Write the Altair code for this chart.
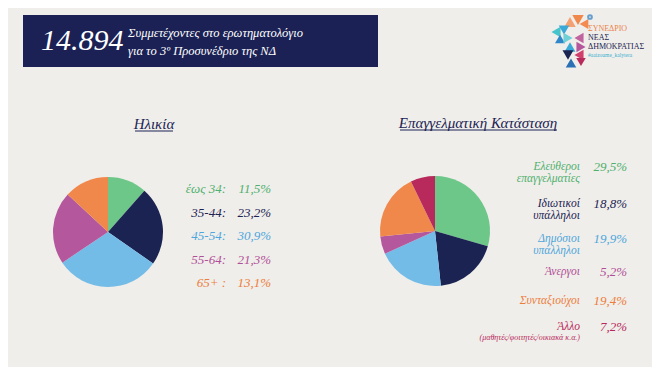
import altair as alt
import pandas as pd

# ---- data ----
age_labels = ["έως 34:", "35-44:", "45-54:", "55-64:", "65+ :"]
age_values = [11.5, 23.2, 30.9, 21.3, 13.1]
age_texts = ["11,5%", "23,2%", "30,9%", "21,3%", "13,1%"]

job_labels = ["Ελεύθεροι\nεπαγγελματίες", "Ιδιωτικοί\nυπάλληλοι", "Δημόσιοι\nυπάλληλοι",
              "Άνεργοι", "Συνταξιούχοι", "Άλλο"]
job_values = [29.5, 18.8, 19.9, 5.2, 19.4, 7.2]
job_texts = ["29,5%", "18,8%", "19,9%", "5,2%", "19,4%", "7,2%"]

total_text = "14.894"
header_lines = ["Συμμετέχοντες στο ερωτηματολόγιο", "για το 3º Προσυνέδριο της ΝΔ"]
age_title = "Ηλικία"
job_title = "Επαγγελματική Κατάσταση"
other_note = "(μαθητές/φοιτητές/οικιακά κ.α.)"

# ---- styles ----
GREEN, NAVY, BLUE, MAGENTA, ORANGE, CRIMSON = "#6cc788", "#1b2353", "#73bce8", "#b4579c", "#f0884c", "#b8295c"
age_colors = [GREEN, NAVY, BLUE, MAGENTA, ORANGE]
job_colors = [GREEN, NAVY, BLUE, MAGENTA, ORANGE, CRIMSON]
text_age_colors = ["#4fb06f", NAVY, "#4ea6dc", "#b04f98", "#ec7d3c"]
text_job_colors = ["#4fb06f", NAVY, "#4ea6dc", "#b04f98", "#ec7d3c", CRIMSON]
BG = "#f0eeea"
BANNER = "#1b2154"
SERIF = "Liberation Serif"

age_df = pd.DataFrame({"idx": range(len(age_labels)), "label": age_labels,
                       "v": age_values, "t": age_texts})
job_df = pd.DataFrame({"idx": range(len(job_labels)), "label": job_labels,
                       "v": job_values, "t": job_texts})
one = alt.Data(values=[{"a": 1}])

age_color = alt.Color("label:N", scale=alt.Scale(domain=age_labels, range=age_colors), legend=None)
job_color = alt.Color("label:N", scale=alt.Scale(domain=job_labels, range=job_colors), legend=None)
age_tcolor = alt.Color("label:N", scale=alt.Scale(domain=age_labels, range=text_age_colors), legend=None)
job_tcolor = alt.Color("label:N", scale=alt.Scale(domain=job_labels, range=text_job_colors), legend=None)

age_y = alt.Y("idx:Q", scale=alt.Scale(domain=[0, 4], range=[181, 275], zero=False, nice=False), axis=None)
job_y = alt.Y("idx:Q", scale=alt.Scale(domain=[0, 1, 2, 3, 4, 5], range=[159, 196, 231, 264, 293, 319],
                                         zero=False, nice=False), axis=None)

# pies
age_pie = alt.Chart(age_df).mark_arc(outerRadius=55).encode(
    theta=alt.Theta("v:Q", stack=True), color=age_color, order=alt.Order("idx:Q"),
    x=alt.value(100), y=alt.value(224))
job_pie = alt.Chart(job_df).mark_arc(outerRadius=55).encode(
    theta=alt.Theta("v:Q", stack=True), color=job_color, order=alt.Order("idx:Q"),
    x=alt.value(427), y=alt.value(223))

# legends
txt = dict(font=SERIF, fontStyle="italic", fontSize=13, baseline="middle", align="right")
age_lab = alt.Chart(age_df).mark_text(**txt).encode(
    text="label:N", color=age_tcolor, y=age_y, x=alt.value(218))
age_val = alt.Chart(age_df).mark_text(**txt).encode(
    text="t:N", color=age_tcolor, y=age_y, x=alt.value(263))
job_lab = alt.Chart(job_df).mark_text(lineBreak="\n", lineHeight=11.5, font=SERIF, fontStyle="italic",
                                      fontSize=11.5, baseline="middle", align="right").encode(
    text="label:N", color=job_tcolor, y=job_y, x=alt.value(572))
job_val = alt.Chart(job_df).mark_text(**txt).encode(
    text="t:N", color=job_tcolor, y=job_y, x=alt.value(619))
note = alt.Chart(one).mark_text(text=other_note, font=SERIF, fontStyle="italic", fontSize=8,
                                align="right", baseline="middle", color=CRIMSON).encode(
    x=alt.value(572), y=alt.value(330))

# titles
def title(t, cx, cy, x1, x2, uy):
    tt = alt.Chart(one).mark_text(text=t, font=SERIF, fontStyle="italic", fontSize=15,
                                  align="center", baseline="middle", color=NAVY).encode(
        x=alt.value(cx), y=alt.value(cy))
    ul = alt.Chart(one).mark_rule(color=NAVY, strokeWidth=1).encode(
        x=alt.value(x1), x2=alt.value(x2), y=alt.value(uy))
    return [tt, ul]

titles = title(age_title, 146, 116, 127, 165, 123) + title(job_title, 470, 115, 392, 549, 122)

# banner
banner = alt.Chart(one).mark_rect(color=BANNER).encode(
    x=alt.value(15), x2=alt.value(370), y=alt.value(7), y2=alt.value(59))
big = alt.Chart(one).mark_text(text=total_text, font="Liberation Serif", fontStyle="italic",
                               fontSize=30, align="left", baseline="middle", color="white").encode(
    x=alt.value(33), y=alt.value(33))
hl1 = alt.Chart(one).mark_text(text=header_lines[0], font=SERIF, fontStyle="italic",
                               fontSize=12.5, align="left", baseline="middle",
                               color="white").encode(x=alt.value(120), y=alt.value(25))
hl2 = alt.Chart(one).mark_text(text=header_lines[1], font=SERIF, fontStyle="italic",
                               fontSize=12.5, align="left", baseline="middle",
                               color="white").encode(x=alt.value(120), y=alt.value(43))

# logo (decoration)
logo = []
parts = [
    (562, 14, "triangle-up", "#f5a070", 130), (570, 12, "triangle-down", "#f0884c", 130),
    (576, 16, "triangle-left", "#f28a52", 100),
    (548, 24, "triangle-left", "#47c3cc", 110), (556, 22, "triangle-down", "#3aa9d8", 110),
    (552, 31, "triangle-up", "#2f86c8", 100),
    (560, 30, "triangle-right", "#6fd0d8", 110), (562, 39, "triangle-up", "#3aa9d8", 120),
    (560, 47, "triangle-down", "#1b2353", 120), (563, 55, "triangle-up", "#2b6fb5", 110),
    (571, 30, "triangle-left", "#c0639f", 110), (573, 39, "triangle-right", "#b4579c", 110),
    (571, 47, "triangle-left", "#d0406c", 110), (573, 54, "triangle-down", "#b8295c", 90),
]
for (lx, ly, shp, col, sz) in parts:
    logo.append(alt.Chart(one).mark_point(shape=shp, filled=True, color=col, size=sz, opacity=1).encode(
        x=alt.value(lx), y=alt.value(ly)))
logo.append(alt.Chart(one).mark_point(shape="circle", filled=False, color="#2d7fc1", size=14,
                                      strokeWidth=2).encode(x=alt.value(582), y=alt.value(9)))
logo_txt = [("ΣΥΝΕΔΡΙΟ", 21, "#e9834b", 8), ("ΝΕΑΣ", 30, NAVY, 8),
            ("ΔΗΜΟΚΡΑΤΙΑΣ", 39, NAVY, 8), ("#aaizoume_kalytera", 47, "#3ab0d0", 5.5)]
for (t, ty, col, fs) in logo_txt:
    logo.append(alt.Chart(one).mark_text(text=t, font=SERIF,
                                         fontSize=fs, align="left", baseline="middle",
                                         color=col).encode(x=alt.value(580), y=alt.value(ty)))

chart = alt.layer(
    banner, big, hl1, hl2, *titles, age_pie, job_pie, age_lab, age_val, job_lab, job_val, note, *logo
).resolve_scale(theta="independent", color="independent", y="independent").properties(
    width=644, height=359, autosize=alt.AutoSizeParams(type="none"), padding=0,
    background=BG
).configure_view(stroke=None)

chart.save("out.html", embed_options={"renderer": "svg", "actions": False})
